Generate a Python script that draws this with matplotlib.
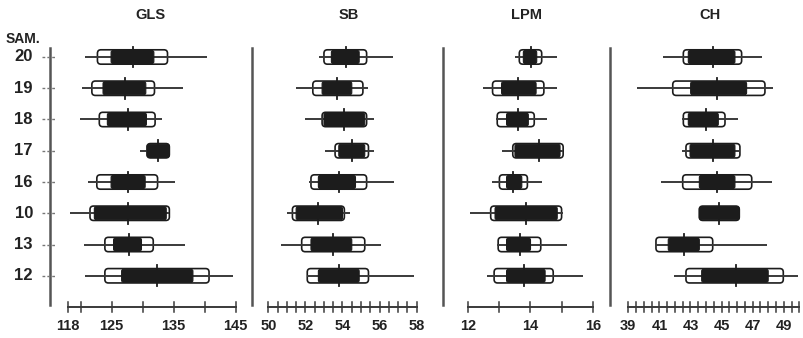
import matplotlib
matplotlib.use("Agg")
import matplotlib.pyplot as plt
from matplotlib.patches import FancyBboxPatch
from matplotlib.lines import Line2D
import matplotlib.transforms as mtransforms
import numpy as np

SAMPLES = ["20", "19", "18", "17", "16", "10", "13", "12"]

# (lo, hi) per sample: range line, open box (SD), filled box (SE), mean
gls_range = [(120.7, 140.4), (120.2, 136.5), (119.9, 133.1), (129.5, 134.3),
             (121.1, 135.2), (118.2, 134.3), (120.5, 136.8), (120.7, 144.5)]
gls_sd = [(122.7, 134.0), (121.8, 131.9), (123.0, 132.0), (130.7, 134.3),
          (122.6, 132.4), (121.5, 134.3), (123.9, 131.7), (123.9, 140.7)]
gls_se = [(124.9, 131.8), (123.6, 130.5), (124.3, 130.6), (130.7, 134.3),
          (124.9, 130.4), (122.2, 133.8), (125.3, 129.8), (126.6, 138.1)]
gls_mean = [128.4, 127.1, 127.6, 132.5, 127.6, 127.7, 127.8, 132.3]

sb_range = [(52.75, 56.74), (51.5, 55.4), (52.0, 55.7), (53.06, 55.7),
            (52.2, 56.8), (51.0, 54.4), (50.7, 56.1), (52.1, 57.85)]
sb_sd = [(53.0, 55.3), (52.4, 55.1), (52.9, 55.3), (53.6, 55.4),
         (52.3, 55.3), (51.3, 54.1), (51.8, 55.2), (52.1, 55.4)]
sb_se = [(53.4, 54.9), (52.9, 54.5), (53.0, 55.2), (53.8, 55.2),
         (52.7, 54.7), (51.5, 54.0), (52.3, 54.5), (52.7, 54.9)]
sb_mean = [54.2, 53.7, 54.1, 54.5, 53.8, 52.7, 53.5, 53.8]

lpm_range = [(13.5, 14.86), (12.48, 14.86), (12.89, 14.54), (13.07, 15.05),
             (12.75, 14.36), (12.05, 15.03), (12.93, 15.18), (12.59, 15.7)]
lpm_sd = [(13.64, 14.36), (12.78, 14.43), (12.93, 14.12), (13.43, 15.05),
          (13.0, 13.9), (12.72, 15.0), (12.96, 14.33), (12.83, 14.73)]
lpm_se = [(13.77, 14.2), (13.07, 14.18), (13.23, 13.93), (13.5, 14.95),
          (13.23, 13.72), (12.86, 14.86), (13.23, 14.0), (13.23, 14.47)]
lpm_mean = [14.02, 13.59, 13.59, 14.27, 13.45, 13.86, 13.66, 13.8]

ch_range = [(41.25, 47.58), (39.58, 48.33), (42.43, 46.07), (42.43, 46.18),
            (41.08, 48.22), (43.57, 46.14), (40.72, 47.9), (41.94, 49.93)]
ch_sd = [(42.54, 46.29), (41.86, 47.79), (42.54, 45.22), (42.71, 46.18),
         (42.5, 46.94), (43.57, 46.14), (40.78, 44.43), (42.71, 48.97)]
ch_se = [(42.86, 45.86), (43.01, 46.61), (42.86, 44.79), (42.97, 45.86),
         (43.57, 45.86), (43.57, 46.14), (41.57, 43.57), (43.72, 48.0)]
ch_mean = [44.43, 44.72, 43.99, 44.47, 44.68, 44.85, 42.58, 45.93]

# panel: title, data, axis span, ruler ticks, labelled ticks
PANELS = [
    ("GLS", gls_range, gls_sd, gls_se, gls_mean, (118, 145),
     [118, 120, 125, 130, 135, 140, 145], [118, 125, 135, 145]),
    ("SB", sb_range, sb_sd, sb_se, sb_mean, (50, 58),
     list(np.arange(50, 58.01, 0.5)), [50, 52, 54, 56, 58]),
    ("LPM", lpm_range, lpm_sd, lpm_se, lpm_mean, (12, 16),
     [12, 13, 14, 15, 16], [12, 14, 16]),
    ("CH", ch_range, ch_sd, ch_se, ch_mean, (39, 50),
     list(np.arange(39, 50.01, 0.5)), [39, 41, 43, 45, 47, 49]),
]

# layout in pixels
W, H = 804, 338
PX = [(68.3, 235.7), (268.3, 416.7), (468.3, 592.7), (628.3, 799.3)]
SEPS = [50, 252, 443, 610]
CENTERS = [150, 349, 527, 710]
TOP, BOT = 45, 320
ROW = 31.29
Y0 = 57

plt.rcParams["font.family"] = ["Liberation Sans", "DejaVu Sans"]
fig = plt.figure(figsize=(W / 100, H / 100), dpi=100)

ylim = (8 + (BOT - 307) / ROW, -(Y0 - TOP) / ROW)
INK = "#1c1c1c"
LINE = "#3a3a3a"
TXT = "#222222"

axes = []
for k, (title, rng, sd, se, mean, span, ticks, labels) in enumerate(PANELS):
    pl, pr = PX[k]
    ax = fig.add_axes([pl / W, 1 - BOT / H, (pr - pl) / W, (BOT - TOP) / H])
    ax.set_xlim(*span)
    ax.set_ylim(*ylim)
    ax.axis("off")
    axes.append(ax)

    p0 = ax.transData.transform((0, 0))
    p1 = ax.transData.transform((1, 1))
    xs = abs(p1[0] - p0[0])   # px per x unit
    ys = abs(p1[1] - p0[1])   # px per y unit
    asp = xs / ys
    r = 3.5 / xs

    for i in range(len(SAMPLES)):
        h = 0.46
        lo, hi = sd[i]
        ax.add_patch(FancyBboxPatch((lo, i - h / 2), hi - lo, h,
                                    boxstyle=f"round,pad=0,rounding_size={r}",
                                    mutation_aspect=asp, fc="white",
                                    ec=INK, lw=1.2, zorder=2))
        ax.plot(rng[i], [i, i], color=LINE, lw=1.4, zorder=3,
                solid_capstyle="butt")
        lo, hi = se[i]
        h2 = 0.42
        ax.add_patch(FancyBboxPatch((lo, i - h2 / 2), hi - lo, h2,
                                    boxstyle=f"round,pad=0,rounding_size={r * 0.6}",
                                    mutation_aspect=asp, fc=INK,
                                    ec=INK, lw=0.8, zorder=4))
        ax.plot([mean[i], mean[i]], [i - 0.33, i + 0.33], color=INK, lw=1.3,
                zorder=5)

    # ruler
    ax.plot(span, [8, 8], color=LINE, lw=1.4, clip_on=False)
    for t in ticks:
        ax.plot([t, t], [8 - 0.17, 8 + 0.17], color=LINE, lw=1.1, clip_on=False)
    for t in labels:
        ax.text(t, 8.6, f"{t:g}", ha="center", va="center", fontsize=10.5,
                fontweight="bold", color=TXT)

    fig.text(CENTERS[k] / W, 1 - 15 / H, title, ha="center", va="center",
             fontsize=10.5, fontweight="bold", color=TXT)

# panel separators
for sx in SEPS:
    fig.add_artist(Line2D([sx / W, sx / W], [1 - 48 / H, 1 - 305 / H],
                          color="#555555", lw=1.8))

# sample labels and little ticks on the left axis
tr = mtransforms.blended_transform_factory(fig.transFigure, axes[0].transData)
for i, s in enumerate(SAMPLES):
    fig.add_artist(Line2D([42 / W, 56 / W], [i, i], transform=tr,
                          color="#777777", lw=1.0, ls=(0, (2, 1.5))))
    fig.text(33 / W, i, s, transform=tr, ha="right", va="center",
             fontsize=12, fontweight="bold", color=TXT)

fig.text(6 / W, 1 - 39 / H, "SAM.", ha="left", va="center", fontsize=10,
         fontweight="bold", color=TXT)

fig.savefig("out.png", dpi=100)
